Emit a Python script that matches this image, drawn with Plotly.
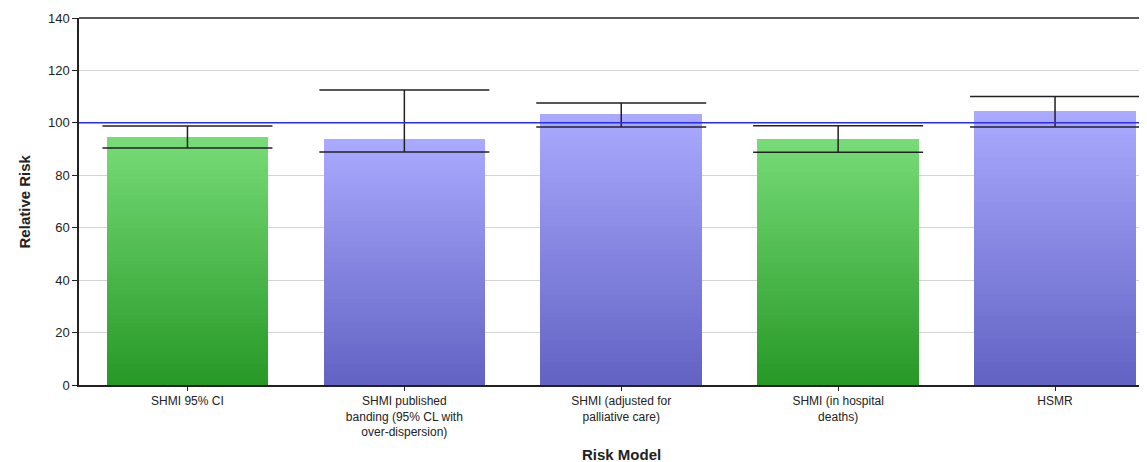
import plotly.graph_objects as go

categories = [
    "SHMI 95% CI",
    "SHMI published<br>banding (95% CL with<br>over-dispersion)",
    "SHMI (adjusted for<br>palliative care)",
    "SHMI (in hospital<br>deaths)",
    "HSMR",
]
values = [94.5, 93.9, 103.2, 93.9, 104.6]
upper = [98.8, 112.5, 107.6, 98.9, 110.1]
lower = [90.4, 88.9, 98.4, 88.8, 98.4]
palette = ["green", "purple", "purple", "green", "purple"]
reference_value = 100

grad = {
    "green": ((0x78, 0xDC, 0x78), (0x26, 0x98, 0x26)),
    "purple": ((0xAA, 0xAA, 0xFF), (0x62, 0x62, 0xC4)),
}

N = 60
fig = go.Figure()
for k in range(N):
    t = (k + 0.5) / N  # 0 bottom -> 1 top
    cols = []
    for p in palette:
        top, bot = grad[p]
        c = tuple(round(bot[i] + (top[i] - bot[i]) * t) for i in range(3))
        cols.append("rgb(%d,%d,%d)" % c)
    fig.add_trace(go.Bar(
        x=categories,
        y=[v / N for v in values],
        marker=dict(color=cols, line=dict(width=0)),
        width=0.745,
        showlegend=False,
        hoverinfo="skip",
    ))

fig.add_trace(go.Scatter(
    x=categories,
    y=values,
    mode="markers",
    marker=dict(size=1, opacity=0),
    error_y=dict(
        type="data",
        symmetric=False,
        array=[u - v for u, v in zip(upper, values)],
        arrayminus=[v - l for v, l in zip(values, lower)],
        width=85,
        thickness=1.5,
        color="#222222",
    ),
    showlegend=False,
))

fig.add_shape(type="line", xref="paper", x0=0, x1=1, yref="y",
              y0=reference_value, y1=reference_value,
              line=dict(color="#2a2aff", width=1.5))
fig.add_shape(type="line", xref="paper", x0=0, x1=1, yref="paper",
              y0=1, y1=1, line=dict(color="#222222", width=1.5))

fig.add_annotation(text="<b>Risk Model</b>", xref="x", x=categories[2],
                   yref="paper", y=-0.19, yanchor="middle", showarrow=False,
                   font=dict(size=15, color="#222222"))
fig.add_annotation(text="<b>Relative Risk</b>", xref="paper", x=-0.0506,
                   xanchor="center", yref="paper", y=0.5, yanchor="middle",
                   textangle=-90, showarrow=False,
                   font=dict(size=15, color="#222222"))

fig.update_layout(
    width=1139,
    height=454,
    margin=dict(l=71, r=0, t=10, b=77),
    barmode="stack",
    bargap=0,
    plot_bgcolor="white",
    paper_bgcolor="white",
    font=dict(family="Liberation Sans, Arial, sans-serif", size=12, color="#222222"),
    xaxis=dict(
        type="category",
        range=[-0.5, 4.424],
        automargin=False,
        showline=True,
        linecolor="#222222",
        linewidth=1.5,
        ticks="outside",
        ticklen=4,
        tickcolor="#222222",
        showgrid=False,
        tickfont=dict(size=12),
    ),
    yaxis=dict(
        range=[0, 140],
        dtick=20,
        automargin=False,
        showline=True,
        linecolor="#222222",
        linewidth=1.5,
        ticks="outside",
        ticklen=5,
        tickcolor="#222222",
        gridcolor="#d4d4d4",
        gridwidth=1,
        zeroline=False,
        tickfont=dict(size=13),
    ),
)

fig.write_html("out.html")
